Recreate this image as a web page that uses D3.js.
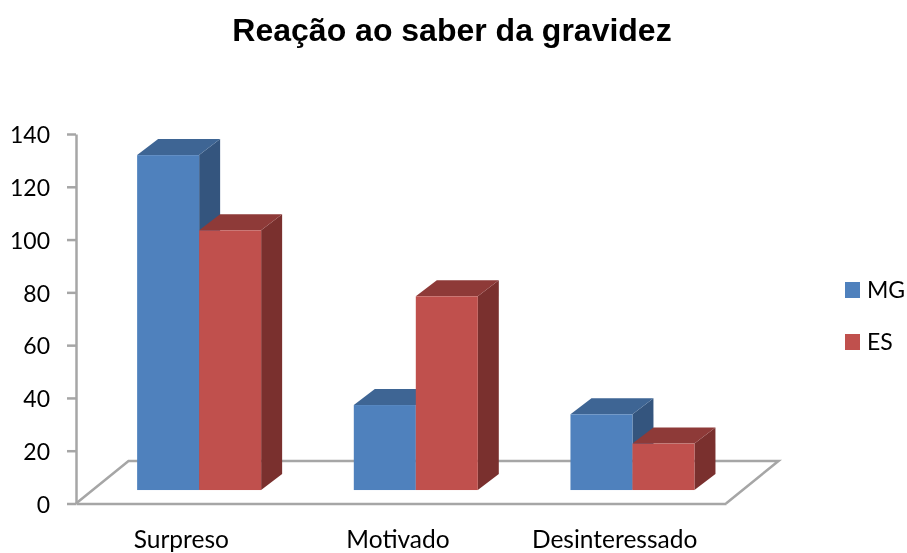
<!DOCTYPE html>
<html><head><meta charset="utf-8">
<script src="https://cdn.jsdelivr.net/npm/d3@7"></script>
<style>html,body{margin:0;padding:0;background:#fff}svg{display:block;filter:blur(0.45px)}</style>
</head><body><svg id="c" width="907" height="553"></svg>
<script>
const title = "Reação ao saber da gravidez";
const categories = ["Surpreso", "Motivado", "Desinteressado"];
const seriesNames = ["MG", "ES"];
const mgValues = [132, 37.3, 33.8];
const esValues = [103.5, 78.5, 22.7];
const yTicks = [0, 20, 40, 60, 80, 100, 120, 140];
const barBaseValue = 5.1;
const colors = {
  MG: {front: "#4f81bd", top: "#3e6594", side: "#34557e"},
  ES: {front: "#c0504d", top: "#8e3a38", side: "#7a302e"}
};

const svg = d3.select("#c");
const y = d3.scaleLinear().domain([0, 140]).range([503.5, 134]);
const x = d3.scaleBand().domain(categories).range([76, 726]);
const barsW = 124, depthX = 21, depthY = 16, barShift = 14.8;
const inner = d3.scaleBand().domain(seriesNames).range([0, barsW]);
const axisColor = "#a6a6a6";

svg.append("text").attr("x", 452).attr("y", 41).attr("text-anchor", "middle")
  .attr("font-family", "Liberation Sans").attr("font-weight", "bold").attr("font-size", 32)
  .attr("fill", "#000").text(title);

// floor
const fx0 = 76, fx1 = 726, fy0 = y(0), fdx = 52.5, fdy = 42.5;
svg.append("path")
  .attr("d", d3.line()([[fx0, fy0], [fx0 + fdx, fy0 - fdy], [fx1 + fdx, fy0 - fdy], [fx1, fy0]]))
  .attr("fill", "none").attr("stroke", axisColor).attr("stroke-width", 2.5);

// y axis
const gy = svg.append("g").attr("transform", "translate(76,0)")
  .call(d3.axisLeft(y).tickValues(yTicks).tickSize(9).tickPadding(17).tickSizeOuter(0));
gy.selectAll("path,line").attr("stroke", axisColor).attr("stroke-width", 2.5);
gy.selectAll("text").attr("font-family", "Lato").attr("font-size", 23).attr("fill", "#000").attr("dy", "0.38em");

// x baseline and labels
const gx = svg.append("g").attr("transform", `translate(0,${y(0)})`)
  .call(d3.axisBottom(x).tickSize(0).tickPadding(27));
gx.select("path").attr("stroke", axisColor).attr("stroke-width", 2.5);
gx.selectAll("text").attr("font-family", "Lato").attr("font-size", 24.5).attr("fill", "#000")
  .attr("dx", -3);

// 3D bars
const rows = categories.map((c, i) => ({c, MG: mgValues[i], ES: esValues[i]}));
const base = y(barBaseValue);
const line = d3.line();
rows.forEach(r => {
  const left = x(r.c) + x.bandwidth() / 2 + barShift - barsW / 2;
  seriesNames.forEach(s => {
    const a = left + inner(s), b = a + inner.bandwidth(), t = y(r[s]);
    const g = svg.append("g"), col = colors[s];
    g.append("path").attr("fill", col.side)
      .attr("d", line([[b, t], [b + depthX, t - depthY], [b + depthX, base - depthY], [b, base]]) + "Z");
    g.append("path").attr("fill", col.top)
      .attr("d", line([[a, t], [a + depthX, t - depthY], [b + depthX, t - depthY], [b, t]]) + "Z");
    g.append("rect").attr("x", a).attr("y", t).attr("width", b - a).attr("height", base - t)
      .attr("fill", col.front);
  });
});

// legend
const legendY = d3.scalePoint().domain(seriesNames).range([290, 342]);
seriesNames.forEach(s => {
  svg.append("rect").attr("x", 845).attr("y", legendY(s) - 8).attr("width", 15).attr("height", 16)
    .attr("fill", colors[s].front);
  svg.append("text").attr("x", 867).attr("y", legendY(s) + 8)
    .attr("font-family", "Lato").attr("font-size", 23).attr("fill", "#000").text(s);
});
</script></body></html>
